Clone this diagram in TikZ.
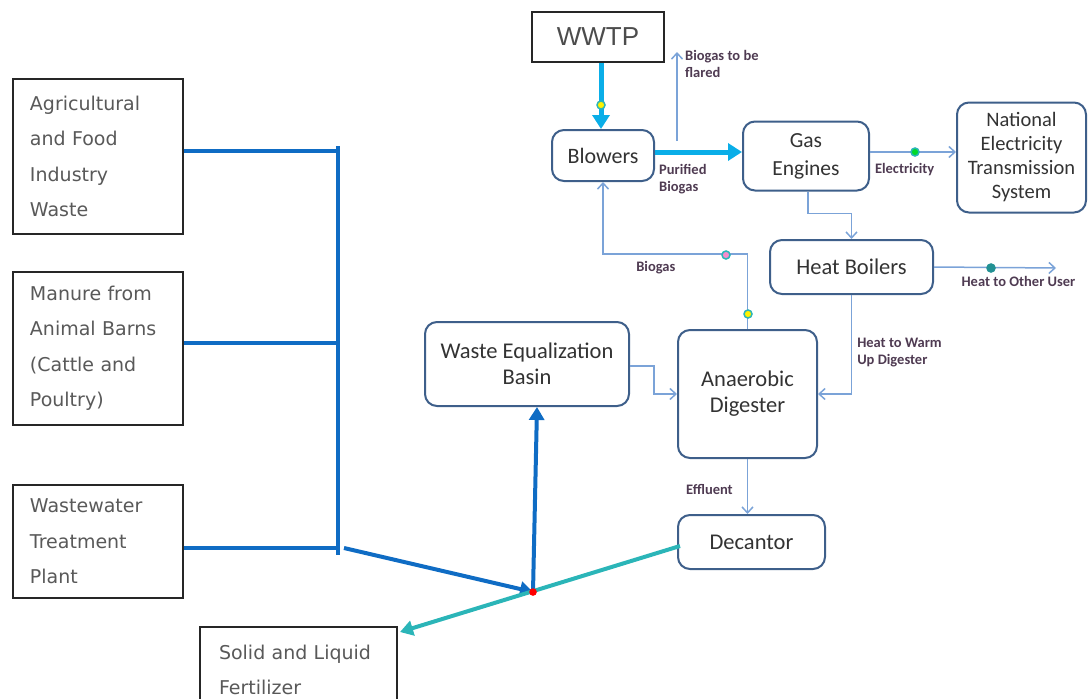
\documentclass[tikz,border=0pt]{standalone}
\usepackage{fontspec}
\setmainfont{Carlito}
\newfontfamily\verdfont{DejaVu Sans}
\newfontfamily\arialfont{Liberation Sans}
\usepackage{xcolor}
\usetikzlibrary{arrows.meta, positioning, calc}

\definecolor{feedblue}{HTML}{0F6CC4}
\definecolor{gascyan}{HTML}{0AAEE8}
\definecolor{thinblue}{HTML}{7BA3D8}
\definecolor{boxedge}{HTML}{3E5F8A}
\definecolor{sludgeteal}{HTML}{2BB5B8}
\definecolor{labeltxt}{HTML}{4F3B52}
\definecolor{boxtxt}{HTML}{333333}

\begin{document}
\begin{tikzpicture}[
    x=1pt, y=-1pt,
    source/.style={rectangle, draw=black!85, line width=1.3pt, fill=white, align=left, inner xsep=17pt, inner ysep=0pt, text width=136pt, font=\verdfont\fontsize{19}{35.5}\selectfont, text=black!65},
    unit/.style={rectangle, rounded corners=12pt, draw=boxedge, line width=2pt, fill=white, align=center, inner sep=0pt, font=\fontsize{22.5}{26}\selectfont, text=boxtxt},
    tag/.style={font=\bfseries\fontsize{14.5}{17}\selectfont, text=labeltxt, align=left, inner sep=0pt},
    feed/.style={draw=feedblue, line width=4pt},
    feedarrow/.style={feed, -{Triangle[length=13pt, width=15pt]}},
    gasflow/.style={draw=gascyan, line width=5pt, -{Triangle[length=14pt, width=17pt]}},
    thinflow/.style={draw=thinblue, line width=1.5pt, -{Straight Barb[length=6pt, width=11pt]}},
    sludge/.style={draw=sludgeteal, line width=4pt, -{Triangle[length=13pt, width=15pt]}},
    dot/.style={circle, inner sep=0pt, minimum size=8pt, line width=1.5pt}
]
\useasboundingbox (0,0) rectangle (1088,699);

% Feed sources on the left
\node[source, minimum height=155pt] (agri) at (98,156.5) {Agricultural\\and Food\\Industry\\Waste};
\node[source, minimum height=153pt] (manure) at (98,348.5) {Manure from\\Animal Barns\\(Cattle and\\Poultry)};
\node[source, minimum height=113pt] (plant) at (98,541.5) {Wastewater\\Treatment\\Plant};
\node[source, minimum height=86pt, text width=159pt, inner xsep=19pt] (fert) at (298.5,670) {Solid and Liquid\\Fertilizer};

% Process units
\node[rectangle, draw=black!85, line width=2.5pt, fill=white, minimum width=132pt, minimum height=50pt, font=\arialfont\fontsize{26}{30}\selectfont, text=black!70] (wwtp) at (598,37) {WWTP};
\node[unit, minimum width=102pt, minimum height=51pt, font=\fontsize{22}{26}\selectfont] (blow) at (603,155.5) {Blowers};
\node[unit, minimum width=126pt, minimum height=69pt, font=\fontsize{21.5}{28}\selectfont] (gas) at (806,156) {Gas\\Engines};
\node[unit, minimum width=129pt, minimum height=110pt, font=\fontsize{20.5}{24}\selectfont] (nat) at (1021.5,157.5) {National\\Electricity\\Transmission\\System};
\node[unit, minimum width=163pt, minimum height=54pt] (boil) at (851.5,267) {Heat Boilers};
\node[unit, minimum width=204pt, minimum height=84pt] (web) at (527,364) {Waste Equalization\\Basin};
\node[unit, minimum width=139pt, minimum height=128pt] (dig) at (747.5,394) {Anaerobic\\Digester};
\node[unit, minimum width=147pt, minimum height=54pt] (dec) at (751.5,542) {Decantor};

% Junction points
\coordinate (bus1) at (338,151);
\coordinate (bus2) at (338,343);
\coordinate (bus3) at (338,548);
\coordinate (mix) at (533,592);
\coordinate (gasin) at (601,0);
\coordinate (flarebase) at (677,152);
\coordinate (flaretop) at (677,52);
\coordinate (otheruser) at (1056,268);
\coordinate (fertin) at (400,632);
\coordinate (decout) at (680,546);

% Collection bus
\draw[feed] (agri.east |- bus1) -- (bus1);
\draw[feed] (manure.east |- bus2) -- (bus2);
\draw[feed] (plant.east |- bus3) -- (bus3);
\draw[feed] (338,146) -- (338,555);
\draw[feedarrow] (344,548) -- (mix);
\draw[feedarrow] (mix) -- ([xshift=10pt]web.south);

% Decantor to fertilizer
\draw[sludge] (decout) -- (fertin);

% Gas line
\draw[gasflow] (gasin |- wwtp.south) -- (gasin |- blow.north);
\draw[gasflow] (blow.east |- flarebase) -- (gas.west |- flarebase) node[pos=0.02, below right=10pt and 0pt, tag] (puri) {Purified\\Biogas};
\draw[thinflow] ([yshift=11pt]flarebase) -- (flaretop);
\node[tag, anchor=west] (flare) at (685,64) {Biogas to be\\flared};

% Energy
\draw[thinflow] (gas.east |- flarebase) -- (nat.west |- flarebase) node[pos=0.05, below right=11pt and 0pt, tag] (elec) {Electricity};
\draw[thinflow] ([xshift=2pt]gas.south) -- ++(0,22) -| (boil.north);
\draw[thinflow] (boil.east) -- (otheruser) node[pos=0.22, below right=8pt and 0pt, tag] (other) {Heat to Other User};
\draw[thinflow] (boil.south) |- (dig.east) node[pos=0.29, right=5pt, tag] (warm) {Heat to Warm\\Up Digester};

% Biogas loop and sludge path
\draw[thinflow] (dig.north) -- ++(0,-75) -| (blow.south) node[pos=0.317, below=7pt, tag] (bio) {Biogas};
\draw[thinflow] ([yshift=-2pt]web.east) -- ++(24,0) |- (dig.west);
\draw[thinflow] (dig.south) -- (dig.south |- dec.north) node[pos=0.55, left=14pt, tag] (eff) {Effluent};

% Sampling points
\node[dot, draw=sludgeteal, fill=yellow] at (601,105) {};
\node[dot, draw=sludgeteal, fill=green!70!teal] at (915,152) {};
\node[dot, draw=sludgeteal!80!black, fill=sludgeteal!80!black] at (991,268) {};
\node[dot, draw=sludgeteal, fill=magenta!45] at (726,255) {};
\node[dot, draw=sludgeteal, fill=yellow] at (748,314) {};
\node[dot, draw=red, fill=red, minimum size=6pt] at (mix) {};

\end{tikzpicture}
\end{document}
